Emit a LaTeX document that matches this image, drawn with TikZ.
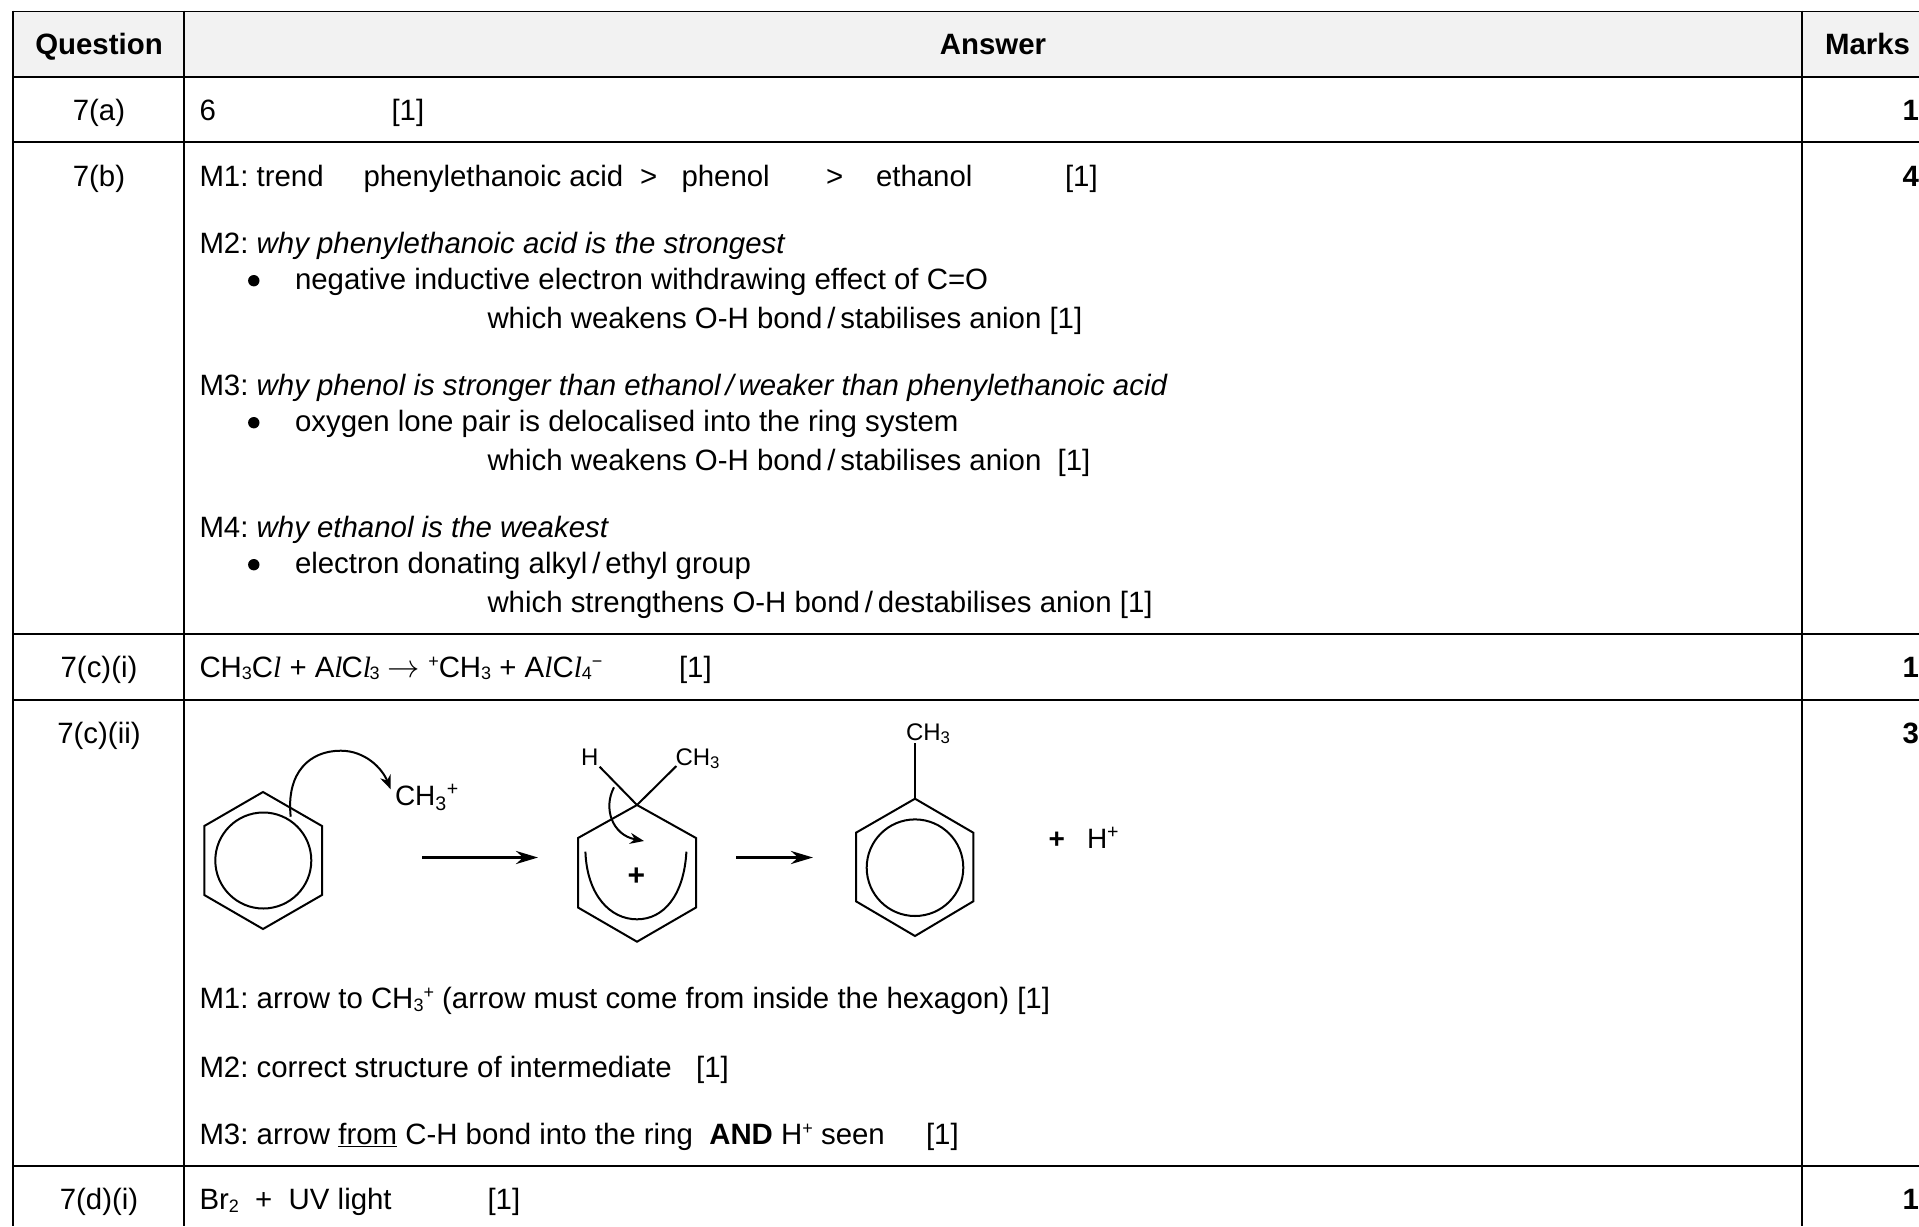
\documentclass[tikz,border=0pt]{standalone}
\usepackage{fontspec}
\setmainfont{Liberation Sans}
\newfontfamily\serifl{Liberation Serif}
\usetikzlibrary{arrows.meta}
\newcommand\il{{\serifl\itshape l}}
\newcommand\bodyfont{\frenchspacing\fontsize{29.4}{33}\selectfont}
\newcommand\sbs[1]{\raisebox{-2.5pt}{\fontsize{18}{18}\selectfont #1}}
\newcommand\sps[1]{\raisebox{10pt}{\fontsize{18}{18}\selectfont #1}}
\definecolor{headgray}{HTML}{F2F2F2}
\tikzset{
  txt/.style={anchor=base west,inner sep=0pt,outer sep=0pt,font=\bodyfont,text=black,yshift=-1pt},
  ctr/.style={anchor=base,inner sep=0pt,outer sep=0pt,font=\bodyfont,text=black,yshift=-1pt},
  mrk/.style={anchor=base east,inner sep=0pt,outer sep=0pt,font=\bodyfont\bfseries,text=black,yshift=-1pt},
  bullet/.style={circle,fill=black,inner sep=0pt,minimum size=11.4pt},
  rule/.style={line width=2.6pt,black},
  bond/.style={line width=2pt,black},
  chem/.style={anchor=base west,inner sep=0pt,outer sep=0pt,text=black},
  react/.style={line width=3pt,black,-{Stealth[length=22pt,width=13pt]}},
  curly/.style={line width=2pt,black,-{Stealth[length=14pt,width=11pt]}},
}
\begin{document}
\begin{tikzpicture}[x=1pt,y=-1pt]
\useasboundingbox (0,0) rectangle (1919,1226);
% header
\fill[headgray] (13,11.5) rectangle (1919,77);
\draw[line width=1.6pt] (13,11.5) -- (1919,11.5);
\foreach \yy in {77,142,634,700,1166} \draw[rule] (13,\yy) -- (1919,\yy);
\foreach \xx in {13,184,1802} \draw[rule] (\xx,10.7) -- (\xx,1226);
% header text
\node[ctr,font=\bodyfont\bfseries] (hq) at (99,53.2) {Question};
\node[ctr,font=\bodyfont\bfseries] (ha) at (993,53.2) {Answer};
\node[mrk] (hm) at (1910,53.2) {Marks};
% question column
\node[ctr] (q1) at (99,119.3) {7(a)};
\node[ctr] (q2) at (99,185.4) {7(b)};
\node[ctr] (q3) at (99,676.2) {7(c)(i)};
\node[ctr] (q4) at (99,742.5) {7(c)(ii)};
\node[ctr] (q5) at (99,1208.7) {7(d)(i)};
% marks column
\node[mrk] (m1) at (1919,119.3) {1};
\node[mrk] (m2) at (1919,185.4) {4};
\node[mrk] (m3) at (1919,676.2) {1};
\node[mrk] (m4) at (1919,742.5) {3};
\node[mrk] (m5) at (1919,1208.7) {1};
% 7(a)
\node[txt] (a1) at (199.5,119.3) {6};
\node[txt] (a2) at (391.5,119.3) {[1]};
% 7(b)
\node[txt] (b1) at (199.5,185.4) {M1: trend};
\node[txt] (b2) at (363.5,185.4) {phenylethanoic acid};
\node[txt] (b3) at (640,185.4) {>};
\node[txt] (b4) at (681.5,185.4) {phenol};
\node[txt] (b5) at (826,185.4) {>};
\node[txt] (b6) at (876,185.4) {ethanol};
\node[txt] (b7) at (1065,185.4) {[1]};
\node[txt] (c1) at (199.5,252.8) {M2: \textit{why phenylethanoic acid is the strongest}};
\node[bullet] (c2) at (253.8,280.7) {};
\node[txt] (c3) at (295,288.2) {negative inductive electron withdrawing effect of C=O};
\node[txt] (c4) at (487.5,327.4) {which weakens O-H bond\,/\,stabilises anion [1]};
\node[txt] (d1) at (199.5,394.7) {M3: \textit{why phenol is stronger than ethanol\,/\,weaker than phenylethanoic acid}};
\node[bullet] (d2) at (253.8,422.7) {};
\node[txt] (d3) at (295,430.2) {oxygen lone pair is delocalised into the ring system};
\node[txt] (d4) at (487.5,469.4) {which weakens O-H bond\,/\,stabilises anion\ \ [1]};
\node[txt] (e1) at (199.5,536.7) {M4: \textit{why ethanol is the weakest}};
\node[bullet] (e2) at (253.8,564.7) {};
\node[txt] (e3) at (295,572.2) {electron donating alkyl\,/\,ethyl group};
\node[txt] (e4) at (487.5,611.4) {which strengthens O-H bond\,/\,destabilises anion [1]};
% 7(c)(i)
\node[txt] (f1) at (199.5,676.2) {CH\sbs{3}C\il{} + A\il{}\kern-1pt C\il\kern-1.5pt\sbs{3} \scalebox{1.3}{$\rightarrow$} \sps{+}CH\sbs{3} + A\il{}C\il\sbs{4}\sps{\textminus}};
\node[txt] (f2) at (679,676.2) {[1]};
% 7(c)(ii) text
\node[txt] (g1) at (199.5,1007.9) {M1: arrow to CH\sbs{3}\sps{+} (arrow must come from inside the hexagon) [1]};
\node[txt] (g2) at (199.5,1076.4) {M2: correct structure of intermediate\ \ \ [1]};
\node[txt] (g3) at (199.5,1143.8) {M3: arrow \underline{from} C-H bond into the ring\ \ \textbf{AND} H\sps{+} seen};
\node[txt] (g4) at (926,1143.8) {[1]};
% 7(d)(i)
\node[txt] (h1) at (199.5,1208.7) {Br\sbs{2}\ \ +\ \ UV light};
\node[txt] (h2) at (487.5,1208.7) {[1]};
% benzene
\draw[bond,line join=miter] (263,792) -- (322,826) -- (322,895) -- (263,929) -- (204.3,895) -- (204.3,826) -- cycle;
\draw[bond] (263.3,860.5) circle[radius=48pt];
\coordinate (s1) at (290.7,816.7);
\coordinate (e1c) at (390.7,789.3);
\draw[curly] (s1) .. controls (286,772) and (310,750.7) .. (340.7,750.7) .. controls (365,750.7) and (382,768) .. (e1c);
\node[chem,font=\fontsize{28}{30}\selectfont] (ch3p) at (395,805) {CH\textsubscript{3}\textsuperscript{+}};
% arrow 1
\coordinate (r1a) at (422,857.5);
\coordinate (r1b) at (538,857.5);
\draw[react] (r1a) -- (r1b);
% intermediate
\draw[bond,line join=miter] (637,805) -- (696,838) -- (696,907.5) -- (637,941.7) -- (578,907.5) -- (578,838) -- cycle;
\coordinate (c2c) at (637,805);
\coordinate (hb) at (599.6,766.7);
\coordinate (cb) at (676.4,766);
\draw[bond] (c2c) -- (hb);
\draw[bond] (c2c) -- (cb);
\node[chem,font=\fontsize{24}{28}\selectfont] (hh) at (581,765) {H};
\node[chem,font=\fontsize{24}{28}\selectfont] (ch3a) at (675.5,765) {CH\textsubscript{3}};
\draw[bond] (585.4,851.7) .. controls (587,895) and (610,919.3) .. (637,919.3) .. controls (664,919.3) and (684,895) .. (686.4,851.7);
\coordinate (s2) at (614,787.3);
\coordinate (e2c) at (644,841);
\draw[curly] (s2) .. controls (603,808) and (612,835) .. (e2c);
\node[anchor=center,inner sep=0pt,font=\fontsize{30}{30}\selectfont\bfseries] (pl) at (636.4,876.5) {+};
% arrow 2
\coordinate (r2a) at (736,857.5);
\coordinate (r2b) at (813,857.5);
\draw[react] (r2a) -- (r2b);
% toluene
\draw[bond,line join=miter] (915,798.7) -- (973.3,832.7) -- (973.3,901.3) -- (915,936) -- (856,901.3) -- (856,832.7) -- cycle;
\draw[bond] (915,867.7) circle[radius=48.3pt];
\coordinate (t1c) at (915,798.7);
\coordinate (t2c) at (915,743.3);
\draw[bond] (t1c) -- (t2c);
\node[chem,font=\fontsize{24}{28}\selectfont] (ch3b) at (906,740) {CH\textsubscript{3}};
\node[anchor=center,inner sep=0pt,font=\fontsize{28}{30}\selectfont\bfseries] (pl2) at (1056.7,840) {+};
\node[chem,font=\fontsize{28}{30}\selectfont] (hp) at (1087,848) {H\textsuperscript{+}};
\end{tikzpicture}
\end{document}
